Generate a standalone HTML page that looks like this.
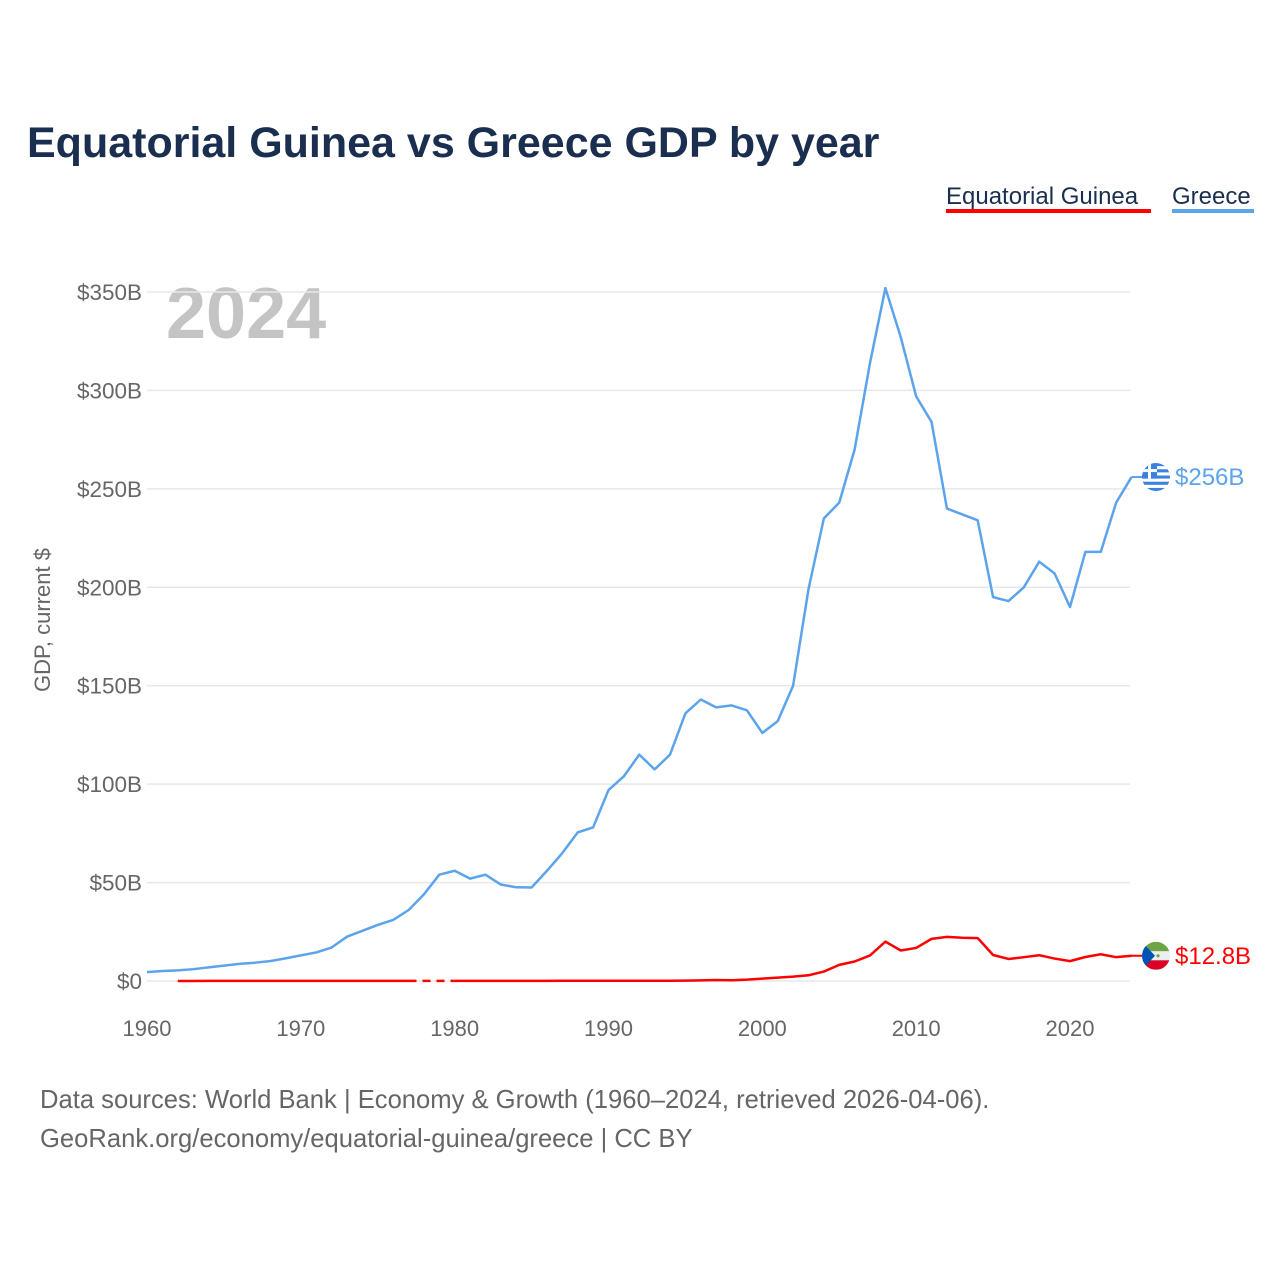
<!DOCTYPE html>
<html><head><meta charset="utf-8"><style>
body{margin:0;background:#fff;font-family:"Liberation Sans",sans-serif;}
svg text{font-family:"Liberation Sans",sans-serif;}
</style></head><body>
<svg width="1280" height="1280" viewBox="0 0 1280 1280">
<text x="27" y="157" font-size="43" font-weight="bold" fill="#1a2e4f">Equatorial Guinea vs Greece GDP by year</text>
<g>
<text x="946" y="204" font-size="24" fill="#1a2e4f">Equatorial Guinea</text>
<rect x="946" y="209" width="205" height="4" fill="#ff0000"/></g>
<g>
<text x="1172" y="204" font-size="24" fill="#1a2e4f">Greece</text>
<rect x="1172" y="209" width="82" height="4" fill="#5ba4ec"/></g>
<text x="166" y="338" font-size="72" font-weight="bold" fill="#c4c4c4">2024</text>
<text transform="translate(50,620) rotate(-90)" text-anchor="middle" font-size="22" fill="#666">GDP, current $</text>
<g id="grid"></g><g id="yt"></g><g id="xt"></g><g id="lines"></g><g id="ends"></g>
<text x="40" y="1108" font-size="25.6" fill="#666">Data sources: World Bank | Economy &amp; Growth (1960–2024, retrieved 2026-04-06).</text>
<text x="40" y="1147" font-size="25.6" fill="#666">GeoRank.org/economy/equatorial-guinea/greece | CC BY</text>
</svg>
<script>
const years=[];for(let y=1960;y<=2024;y++)years.push(y);
const greece=[4.5,5.1,5.4,6.0,6.9,7.8,8.7,9.3,10.1,11.5,13,14.5,17,22.5,25.5,28.5,31,36,44,54,56,52,54,49,47.6,47.5,56,65,75.5,78,97,104,115,107.5,115,136,143,139,140,137.5,126,132,150,199,235,243,270,314,352,327,297,284,240,237,234,195,193,200,213,207,190,218,218,243,256];
const eqg=[null,null,0.03,0.03,0.04,0.04,0.05,0.05,0.05,0.05,0.06,0.06,0.06,0.07,0.07,0.08,0.08,0.08,null,null,0.08,0.08,0.08,0.08,0.08,0.08,0.09,0.1,0.1,0.12,0.13,0.13,0.15,0.15,0.15,0.16,0.3,0.5,0.4,0.7,1.2,1.7,2.2,2.9,4.8,8.2,9.9,13,20,15.5,16.8,21.4,22.4,22,21.8,13.2,11.2,12.1,13.1,11.4,10.1,12.2,13.6,12.1,12.8];
const yTicks=[0,50,100,150,200,250,300,350];
const yTickLabels=["$0","$50B","$100B","$150B","$200B","$250B","$300B","$350B"];
const xTicks=[1960,1970,1980,1990,2000,2010,2020];
const endLabels=["$256B","$12.8B"];
const NS="http://www.w3.org/2000/svg";
const X=y=>147+(y-1960)*(923/60);
const Y=v=>981-v*(689/350);
function mk(t,a,p){const e=document.createElementNS(NS,t);for(const k in a)e.setAttribute(k,a[k]);document.getElementById(p).appendChild(e);return e;}
yTicks.forEach((v,i)=>{
 const l=mk('line',{x1:147,x2:1130,y1:Y(v),y2:Y(v),stroke:'#e8e8e8','stroke-width':1.5},'grid');
 
 
 const t=mk('text',{x:142,y:Y(v)+8,'text-anchor':'end','font-size':22.5,fill:'#666'},'yt');t.textContent=yTickLabels[i];
 
 
});
xTicks.forEach(v=>{
 const t=mk('text',{x:X(v),y:1036,'text-anchor':'middle','font-size':22,fill:'#666'},'xt');t.textContent=v;
 
 
});
function draw(vals,color,name){
 let d='',dash='',last=null,gap=false;
 vals.forEach((v,i)=>{
  if(v==null){if(last)gap=true;return;}
  const p=[X(years[i]),Y(v)];
  if(!last)d+='M'+p;else if(gap){dash+='M'+last+'L'+p;d+='M'+p;gap=false;}else d+='L'+p;
  last=p;
 });
 const l=mk('path',{d:d,fill:'none',stroke:color,'stroke-width':2.5,'stroke-linejoin':'round'},'lines');
 
 
 if(dash){const g=mk('path',{d:dash,fill:'none',stroke:color,'stroke-width':2.5,'stroke-dasharray':'8 6'},'lines');
 
 }
}
draw(greece,'#5ba4ec','greece');
draw(eqg,'#ff0000','equatorial-guinea');
function endMark(v,color,label,name,flag){
 const y=Y(v),x=X(2024);
 mk('line',{x1:x,x2:x+16,y1:y,y2:y,stroke:color,'stroke-width':2},'ends');
 const g=mk('g',{},'ends');
 
 
 g.innerHTML=flag(1156,y);
 const t=mk('text',{x:1175,y:y+8,'font-size':24,fill:color},'ends');t.textContent=label;
 
 
}
endMark(greece[64],'#5ba4ec',endLabels[0],'greece',(cx,cy)=>`<clipPath id="cg"><circle cx="${cx}" cy="${cy}" r="14"/></clipPath><g clip-path="url(#cg)"><rect x="${cx-14}" y="${cy-14}" width="28" height="28" fill="#fff"/>${[0,2,4,6,8].map(i=>`<rect x="${cx-14}" y="${cy-14+i*3.11}" width="28" height="3.11" fill="#3b82e0"/>`).join('')}<rect x="${cx-14}" y="${cy-14}" width="15" height="15.5" fill="#3b82e0"/><rect x="${cx-14}" y="${cy-8}" width="15" height="3" fill="#fff"/><rect x="${cx-8}" y="${cy-14}" width="3" height="15.5" fill="#fff"/></g>`);
endMark(eqg[64],'#ff0000',endLabels[1],'equatorial-guinea',(cx,cy)=>`<clipPath id="ce"><circle cx="${cx}" cy="${cy}" r="14"/></clipPath><g clip-path="url(#ce)"><rect x="${cx-14}" y="${cy-14}" width="28" height="9.5" fill="#6da544"/><rect x="${cx-14}" y="${cy-4.5}" width="28" height="9" fill="#eee"/><rect x="${cx-14}" y="${cy+4.5}" width="28" height="9.5" fill="#d80027"/><polygon points="${cx-14},${cy-14} ${cx-1},${cy} ${cx-14},${cy+14}" fill="#0052b4"/><circle cx="${cx+2}" cy="${cy}" r="1.6" fill="#6da544"/></g>`);
</script>
</body></html>
